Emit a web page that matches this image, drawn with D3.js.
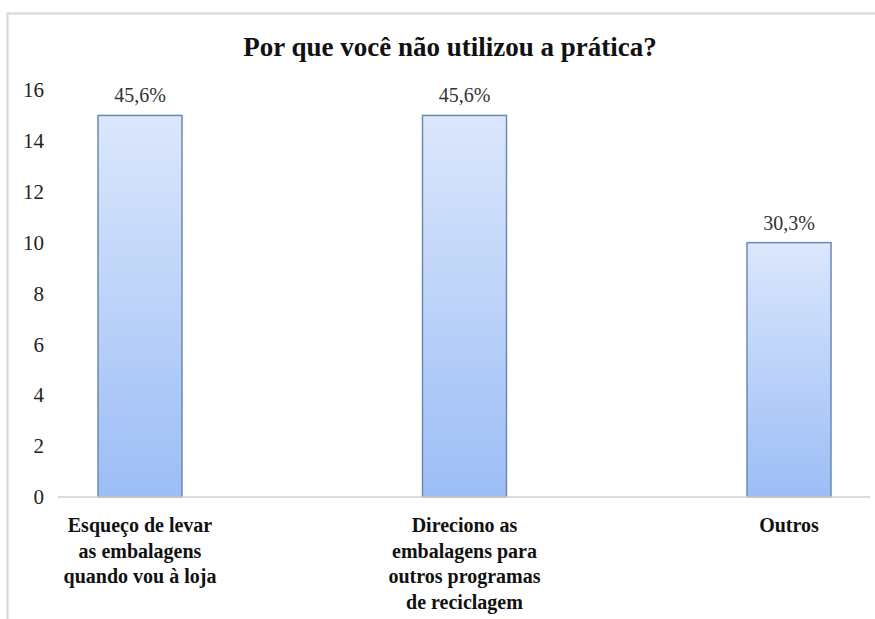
<!DOCTYPE html>
<html>
<head>
<meta charset="utf-8">
<script src="https://cdn.jsdelivr.net/npm/d3@7"></script>
<style>
  body { margin: 0; background: #fff; }
  svg { display: block; }
  svg text { font-family: 'Liberation Serif', 'DejaVu Serif', 'Times New Roman', Times, serif; }
</style>
</head>
<body>
<div id="main"></div>
<script>
// chart data
const categories = [
    ['Esqueço de levar', 'as embalagens', 'quando vou à loja'],
    ['Direciono as', 'embalagens para', 'outros programas', 'de reciclagem'],
    ['Outros']
];
const counts = [15, 15, 10];
const percentLabels = ['45,6%', '45,6%', '30,3%'];
const yTicks = [0, 2, 4, 6, 8, 10, 12, 14, 16];

const width = 875, height = 619;

const svg = d3.select('#main')
    .append('svg')
    .attr('width', width)
    .attr('height', height);

// bar gradient
const grad = svg.append('defs').append('linearGradient')
    .attr('id', 'barFill')
    .attr('x1', 0).attr('y1', 0).attr('x2', 0).attr('y2', 1);
grad.append('stop').attr('offset', '0%').attr('stop-color', '#dbe7fc');
grad.append('stop').attr('offset', '100%').attr('stop-color', '#9cbdf6');

// chart frame
svg.append('path')
    .attr('d', `M7.5,${height} V13.5 H${width}`)
    .attr('fill', 'none')
    .attr('stroke', '#d6d6d6')
    .attr('stroke-width', 2);

const keys = categories.map((d, i) => i);

const xScale = d3.scalePoint()
    .domain(keys)
    .range([140, 789]);

const yScale = d3.scaleLinear()
    .domain([0, 16])
    .range([497, 90]);

const barWidth = 84;

// title
svg.append('text')
    .attr('x', 450)
    .attr('y', 56)
    .attr('text-anchor', 'middle')
    .attr('font-weight', 'bold')
    .attr('font-size', 27)
    .attr('fill', '#111')
    .text('Por que você não utilizou a prática?');

// y axis labels only
const yAxis = svg.append('g')
    .attr('transform', 'translate(44,0)')
    .call(d3.axisLeft(yScale).tickValues(yTicks).tickSize(0).tickPadding(0));
yAxis.select('.domain').remove();
yAxis.selectAll('text')
    .attr('font-family', null)
    .attr('font-size', 21)
    .attr('fill', '#222');

// bars
svg.selectAll('rect.bar')
    .data(counts)
    .enter()
    .append('rect')
    .attr('class', 'bar')
    .attr('x', (d, i) => xScale(i) - barWidth / 2)
    .attr('y', d => yScale(d))
    .attr('width', barWidth)
    .attr('height', d => yScale(0) - yScale(d))
    .attr('fill', 'url(#barFill)')
    .attr('stroke', '#6b8ab5')
    .attr('stroke-width', 1.5);

// baseline
svg.append('line')
    .attr('x1', 58).attr('x2', 870)
    .attr('y1', yScale(0)).attr('y2', yScale(0))
    .attr('stroke', '#d0d0d0')
    .attr('stroke-width', 1.5);

// value labels
svg.selectAll('text.value')
    .data(counts)
    .enter()
    .append('text')
    .attr('class', 'value')
    .attr('x', (d, i) => xScale(i))
    .attr('y', d => yScale(d) - 13)
    .attr('text-anchor', 'middle')
    .attr('font-size', 20)
    .attr('fill', '#333')
    .text((d, i) => percentLabels[i]);

// category labels
const catLabels = svg.selectAll('text.cat')
    .data(categories)
    .enter()
    .append('text')
    .attr('class', 'cat')
    .attr('x', (d, i) => xScale(i))
    .attr('y', 532)
    .attr('text-anchor', 'middle')
    .attr('font-weight', 'bold')
    .attr('font-size', 20)
    .attr('fill', '#111');

catLabels.selectAll('tspan')
    .data(d => d)
    .enter()
    .append('tspan')
    .attr('x', function() { return d3.select(this.parentNode).attr('x'); })
    .attr('dy', (d, i) => i === 0 ? 0 : 25.5)
    .text(d => d);
</script>
</body>
</html>
